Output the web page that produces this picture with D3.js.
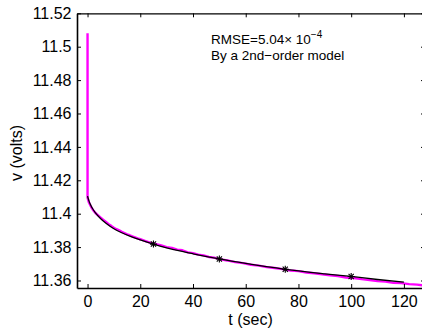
<!DOCTYPE html>
<html><head><meta charset="utf-8">
<script src="https://cdn.jsdelivr.net/npm/d3@7"></script>
<style>body{margin:0;background:#fff;overflow:hidden}svg{display:block}</style>
</head><body>
<script>
// Measured voltage (magenta)
const measT = [0, 0, 0.5, 1, 1.5, 2, 3, 4, 5, 6, 7, 8, 9, 10, 11, 12, 13, 14, 15, 16, 17, 18, 19, 20, 22, 24, 26, 28, 30, 32, 34, 36, 38, 40, 42, 44, 46, 48, 50, 53, 56, 59, 62, 65, 68, 71, 74, 77, 80, 83, 86, 89, 92, 95, 98, 101, 104, 107, 110, 113, 116, 119, 122, 125, 128];
const measV = [11.508, 11.4098, 11.4068, 11.4052, 11.4036, 11.4024, 11.4004, 11.3990, 11.3976, 11.3963, 11.3950, 11.3937, 11.3927, 11.3916, 11.3907, 11.3900, 11.3891, 11.3884, 11.3876, 11.3871, 11.3864, 11.3858, 11.3852, 11.3847, 11.3836, 11.3825, 11.3818, 11.3810, 11.3800, 11.3795, 11.3785, 11.3781, 11.3768, 11.3764, 11.3755, 11.3750, 11.3741, 11.3737, 11.3728, 11.3720, 11.3710, 11.3704, 11.3694, 11.3689, 11.3680, 11.3675, 11.3668, 11.3660, 11.3656, 11.3648, 11.3643, 11.3637, 11.3631, 11.3627, 11.3618, 11.3615, 11.3608, 11.3603, 11.3596, 11.3594, 11.3586, 11.3584, 11.3578, 11.3575, 11.3570];
// 2nd-order model (black)
const modelT = [0, 0.5, 1, 2, 3, 5, 7, 10, 13, 16, 20, 25, 30, 35, 40, 50, 60, 75, 90, 100, 110, 120];
const modelV = [11.4105, 11.4078, 11.4058, 11.4028, 11.4005, 11.3970, 11.3943, 11.3910, 11.3886, 11.3866, 11.3843, 11.3818, 11.3796, 11.3777, 11.3760, 11.3729, 11.3702, 11.3667, 11.3640, 11.3624, 11.3606, 11.3590];
// star markers
const starT = [25, 50, 75, 100];
const starV = [11.3818, 11.3729, 11.3667, 11.3624];
// ticks
const xTicks = [0, 20, 40, 60, 80, 100, 120];
const yTicks = [11.36, 11.38, 11.4, 11.42, 11.44, 11.46, 11.48, 11.5, 11.52];
const yTickLabels = ["11.36", "11.38", "11.4", "11.42", "11.44", "11.46", "11.48", "11.5", "11.52"];

const W = 422, H = 330;
const L = 77, R = 425, T = 13.3, B = 288;
const svg = d3.select("body").append("svg").attr("width", W).attr("height", H)
  .style("font-family", "'Liberation Sans', Arial, sans-serif");
const x = d3.scaleLinear().domain([-4, 128]).range([L, R]);
const y = d3.scaleLinear().domain([11.3555, 11.52]).range([B, T]);

svg.append("clipPath").attr("id", "c").append("rect")
  .attr("x", L).attr("y", T).attr("width", R - L).attr("height", B - T);
const plot = svg.append("g").attr("clip-path", "url(#c)");

const meas = measT.map((t, i) => [t, measV[i]]);
const model = modelT.map((t, i) => [t, modelV[i]]);
plot.append("path").datum(meas)
  .attr("d", d3.line().x(d => x(d[0])).y(d => y(d[1])))
  .attr("fill", "none").attr("stroke", "#ff00ff").attr("stroke-width", 2.4).attr("stroke-linejoin", "round");
plot.append("path").datum(model)
  .attr("d", d3.line().curve(d3.curveMonotoneX).x(d => x(d[0])).y(d => y(d[1])))
  .attr("fill", "none").attr("stroke", "#000").attr("stroke-width", 1.3);

const s = 3.5, sd = 2.6;
starT.forEach((t, i) => {
  const cx = x(t), cy = y(starV[i]);
  const g = plot.append("g").attr("stroke", "#000").attr("stroke-width", 1.1);
  g.append("line").attr("x1", cx - s).attr("x2", cx + s).attr("y1", cy).attr("y2", cy);
  g.append("line").attr("x1", cx).attr("x2", cx).attr("y1", cy - s).attr("y2", cy + s);
  g.append("line").attr("x1", cx - sd).attr("x2", cx + sd).attr("y1", cy - sd).attr("y2", cy + sd);
  g.append("line").attr("x1", cx - sd).attr("x2", cx + sd).attr("y1", cy + sd).attr("y2", cy - sd);
});

// axes
const tl = 4;
const axB = svg.append("g").attr("transform", `translate(0,${B})`)
  .call(d3.axisBottom(x).tickValues(xTicks).tickSizeInner(-tl).tickSizeOuter(0).tickPadding(8));
const axL = svg.append("g").attr("transform", `translate(${L},0)`)
  .call(d3.axisLeft(y).tickValues(yTicks).tickFormat((d, i) => yTickLabels[i]).tickSizeInner(-tl).tickSizeOuter(0).tickPadding(5.5));
const axT = svg.append("g").attr("transform", `translate(0,${T})`)
  .call(d3.axisTop(x).tickValues(xTicks).tickFormat("").tickSizeInner(-tl).tickSizeOuter(0));
const axR = svg.append("g").attr("transform", `translate(${R},0)`)
  .call(d3.axisRight(y).tickValues(yTicks).tickFormat("").tickSizeInner(-tl).tickSizeOuter(0));
[axB, axL, axT, axR].forEach(g => {
  g.selectAll("text").attr("fill", "#000").style("font-size", "16px").style("font-family", "'Liberation Sans', Arial, sans-serif");
  g.selectAll("line").attr("stroke", "#000").attr("stroke-width", 1);
  g.select(".domain").attr("stroke", "#000");
});
axB.select(".domain").attr("stroke-width", 1.6);
axL.select(".domain").attr("stroke-width", 1.6);
axT.select(".domain").attr("stroke-width", 1.2);
axR.select(".domain").attr("stroke-width", 1.2);

// labels
svg.append("text").attr("x", 250.5).attr("y", 325).attr("text-anchor", "middle")
  .style("font-size", "16px").text("t (sec)");
svg.append("text").attr("transform", "translate(22,153) rotate(-90)").attr("text-anchor", "middle")
  .style("font-size", "16px").text("v (volts)");

// annotation
const ann = svg.append("text").attr("x", 211).attr("y", 43.5).style("font-size", "13.5px");
ann.append("tspan").text("RMSE=5.04\u00d7 10");
ann.append("tspan").attr("dy", -5.5).style("font-size", "10px").text("\u22124");
svg.append("text").attr("x", 211).attr("y", 60).style("font-size", "13.5px").text("By a 2nd\u2212order model");
</script>
</body></html>
